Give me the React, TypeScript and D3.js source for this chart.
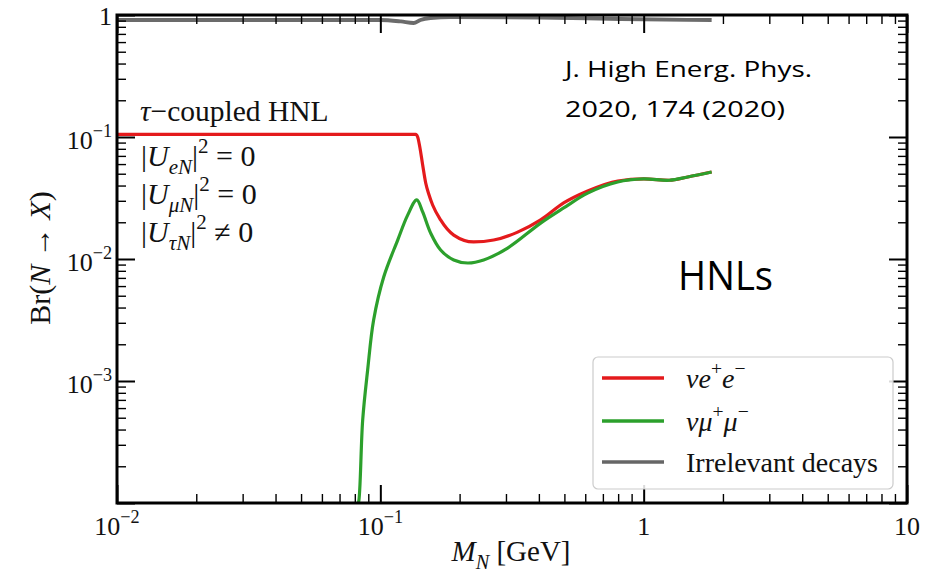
import React, { useEffect, useRef } from "react";
import * as d3 from "d3";

const redX = [0.01, 0.1362, 0.1386, 0.141, 0.1448, 0.1487, 0.1527, 0.158, 0.1694, 0.19, 0.2262, 0.2694, 0.3322, 0.4063, 0.4968, 0.6127, 0.797, 1.0, 1.25, 1.47, 1.812];
const redY = [0.105, 0.105, 0.1, 0.0844, 0.059, 0.042, 0.0341, 0.0277, 0.0209, 0.0157, 0.0138, 0.0143, 0.0166, 0.0209, 0.0288, 0.0361, 0.0436, 0.0453, 0.0442, 0.047, 0.0516];

const greenX = [0.0822, 0.0827, 0.0857, 0.0895, 0.0943, 0.103, 0.1164, 0.127, 0.1375, 0.1448, 0.1553, 0.1694, 0.19, 0.2146, 0.2468, 0.3044, 0.4063, 0.4968, 0.6127, 0.797, 1.0, 1.25, 1.47, 1.812];
const greenY = [0.0001, 0.000102, 0.000479, 0.00123, 0.00316, 0.00712, 0.0143, 0.0229, 0.0305, 0.0243, 0.0163, 0.01186, 0.00981, 0.00927, 0.00981, 0.0123, 0.0197, 0.0262, 0.0347, 0.0428, 0.0453, 0.0442, 0.047, 0.0516];

const grayX = [0.01, 0.1, 0.1197, 0.1338, 0.142, 0.155, 0.185, 0.406, 0.818, 1.812];
const grayY = [0.91, 0.91, 0.885, 0.86, 0.91, 0.945, 0.963, 0.954, 0.927, 0.91];

const xDecades = [-2, -1, 0, 1];
const yDecades = [-4, -3, -2, -1, 0];
const minorMultipliers = [2, 3, 4, 5, 6, 7, 8, 9];

const xTickLabels = [
  { v: 0.01, base: "10", exp: "−2" },
  { v: 0.1, base: "10", exp: "−1" },
  { v: 1, base: "1", exp: "" },
  { v: 10, base: "10", exp: "" },
];
const yTickLabels = [
  { v: 1, base: "1", exp: "" },
  { v: 0.1, base: "10", exp: "−1" },
  { v: 0.01, base: "10", exp: "−2" },
  { v: 0.001, base: "10", exp: "−3" },
];

const legendItems = [
  { color: "#e41a1c", segs: [{ t: "ν", it: true }, { t: "e", it: true }, { t: "+", sup: true }, { t: "e", it: true }, { t: "−", sup: true }] },
  { color: "#2ca02c", segs: [{ t: "ν", it: true }, { t: "μ", it: true }, { t: "+", sup: true }, { t: "μ", it: true }, { t: "−", sup: true }] },
  { color: "#666666", segs: [{ t: "Irrelevant decays" }] },
];

const W = 945, H = 572;
const L = 117, R = 907, T = 15, B = 503;
const SERIF = "'Liberation Serif', 'Times New Roman', serif";
const SANS = "'Open Sans', 'Noto Sans', sans-serif";

function MathText({ x, y, segs, fs, anchor = "start", transform }: any) {
  let cur = 0;
  return (
    <text x={x} y={y} fontSize={fs} fontFamily={SERIF} textAnchor={anchor} transform={transform} fill="#111">
      {segs.map((s: any, i: number) => {
        const target = s.sub ? fs * 0.28 : s.sup ? -fs * 0.45 : 0;
        const dy = target - cur;
        cur = target;
        return (
          <tspan key={i} dy={dy} fontStyle={s.it ? "italic" : "normal"} fontSize={s.sub || s.sup ? fs * 0.7 : fs}>
            {s.t}
          </tspan>
        );
      })}
    </text>
  );
}

export default function App() {
  const tickRef = useRef<SVGGElement | null>(null);
  const x = d3.scaleLog().domain([0.01, 10]).range([L, R]);
  const y = d3.scaleLog().domain([1e-4, 1]).range([B, T]);
  const line = d3.line<[number, number]>().x((d) => x(d[0])).y((d) => y(d[1])).curve(d3.curveMonotoneX);
  const lineSmooth = d3.line<[number, number]>().x((d) => x(d[0])).y((d) => y(d[1])).curve(d3.curveCatmullRom.alpha(0.5));
  const zip = (a: number[], b: number[]) => a.map((v, i) => [v, b[i]] as [number, number]);

  const xMajor = xDecades.map((d) => Math.pow(10, d));
  const xMinor = xDecades.slice(0, -1).flatMap((d) => minorMultipliers.map((k) => k * Math.pow(10, d)));
  const yMajor = yDecades.map((d) => Math.pow(10, d));
  const yMinor = yDecades.slice(0, -1).flatMap((d) => minorMultipliers.map((k) => k * Math.pow(10, d)));

  useEffect(() => {
    if (!tickRef.current) return;
    const g = d3.select(tickRef.current);
    g.selectAll("*").remove();
    const specs: [any, number, string][] = [
      [d3.axisBottom(x).tickValues(xMajor).tickSize(-18).tickFormat(() => ""), 2, `translate(0,${B})`],
      [d3.axisBottom(x).tickValues(xMinor).tickSize(-9).tickFormat(() => ""), 1.4, `translate(0,${B})`],
      [d3.axisTop(x).tickValues(xMajor).tickSize(-18).tickFormat(() => ""), 2, `translate(0,${T})`],
      [d3.axisTop(x).tickValues(xMinor).tickSize(-9).tickFormat(() => ""), 1.4, `translate(0,${T})`],
      [d3.axisLeft(y).tickValues(yMajor).tickSize(-18).tickFormat(() => ""), 2, `translate(${L},0)`],
      [d3.axisLeft(y).tickValues(yMinor).tickSize(-9).tickFormat(() => ""), 1.4, `translate(${L},0)`],
      [d3.axisRight(y).tickValues(yMajor).tickSize(-18).tickFormat(() => ""), 2, `translate(${R},0)`],
      [d3.axisRight(y).tickValues(yMinor).tickSize(-9).tickFormat(() => ""), 1.4, `translate(${R},0)`],
    ];
    specs.forEach(([axis, w, tr]) => {
      const a = g.append("g").attr("transform", tr).call(axis);
      a.select(".domain").remove();
      a.selectAll(".tick line").attr("stroke", "#000").attr("stroke-width", w);
    });
  }, []);

  const gray = line(zip(grayX, grayY)) || "";
  const red = line(zip(redX, redY)) || "";
  const green = lineSmooth(zip(greenX, greenY)) || "";

  return (
    <svg width={W} height={H} style={{ position: "absolute", left: 0, top: 0 }}>
      <path d={gray} fill="none" stroke="#6b6b6b" strokeWidth={3.8} />
      <path d={red} fill="none" stroke="#e41a1c" strokeWidth={3.2} strokeLinejoin="round" />
      <path d={green} fill="none" stroke="#2ca02c" strokeWidth={3.2} strokeLinejoin="round" />
      <rect x={L} y={B + 1.5} width={R - L} height={6} fill="#fff" />
      <rect x={L} y={T} width={R - L} height={B - T} fill="none" stroke="#000" strokeWidth={3} />
      <g ref={tickRef} />
      {xTickLabels.map((t, i) => (
        <MathText key={"xl" + i} x={x(t.v)} y={535} fs={26} anchor="middle"
          segs={t.exp ? [{ t: t.base }, { t: t.exp, sup: true }] : [{ t: t.base }]} />
      ))}
      {yTickLabels.map((t, i) => (
        <MathText key={"yl" + i} x={112} y={y(t.v) + (t.exp ? 12 : 10)} fs={26} anchor="end"
          segs={t.exp ? [{ t: t.base }, { t: t.exp, sup: true }] : [{ t: t.base }]} />
      ))}
      <MathText x={511} y={561} fs={29} anchor="middle" segs={[{ t: "M", it: true }, { t: "N", it: true, sub: true }, { t: " [GeV]" }]} />
      <MathText x={0} y={0} fs={30} anchor="middle" transform={`translate(50,258) rotate(-90)`}
        segs={[{ t: "Br(" }, { t: "N", it: true }, { t: " → " }, { t: "X", it: true }, { t: ")" }]} />
      <MathText x={140} y={121} fs={29.5} segs={[{ t: "τ", it: true }, { t: "−coupled HNL" }]} />
      <MathText x={141} y={166} fs={30} segs={[{ t: "|" }, { t: "U", it: true }, { t: "eN", it: true, sub: true }, { t: "|" }, { t: "2", sup: true }, { t: " = 0" }]} />
      <MathText x={141} y={204} fs={30} segs={[{ t: "|" }, { t: "U", it: true }, { t: "μN", it: true, sub: true }, { t: "|" }, { t: "2", sup: true }, { t: " = 0" }]} />
      <MathText x={141} y={242} fs={30} segs={[{ t: "|" }, { t: "U", it: true }, { t: "τN", it: true, sub: true }, { t: "|" }, { t: "2", sup: true }, { t: " ≠ 0" }]} />
      <text x={565} y={77} fontFamily={SANS} fontSize={22} textLength={247} lengthAdjust="spacingAndGlyphs" fill="#000">J. High Energ. Phys.</text>
      <text x={565} y={117} fontFamily={SANS} fontSize={22} textLength={220} lengthAdjust="spacingAndGlyphs" fill="#000">2020, 174 (2020)</text>
      <text x={678} y={290} fontFamily={SANS} fontSize={40} textLength={95} lengthAdjust="spacingAndGlyphs" fill="#000">HNLs</text>
      <rect x={593} y={357} width={300} height={132} rx={5} fill="#fff" fillOpacity={0.85} stroke="#cccccc" strokeWidth={1.2} />
      {legendItems.map((it, i) => {
        const ly = [378, 421, 462][i];
        return (
          <g key={"lg" + i}>
            <line x1={602} x2={664} y1={ly} y2={ly} stroke={it.color} strokeWidth={3.5} />
            <MathText x={686} y={ly + 10} fs={28} segs={it.segs} />
          </g>
        );
      })}
    </svg>
  );
}
